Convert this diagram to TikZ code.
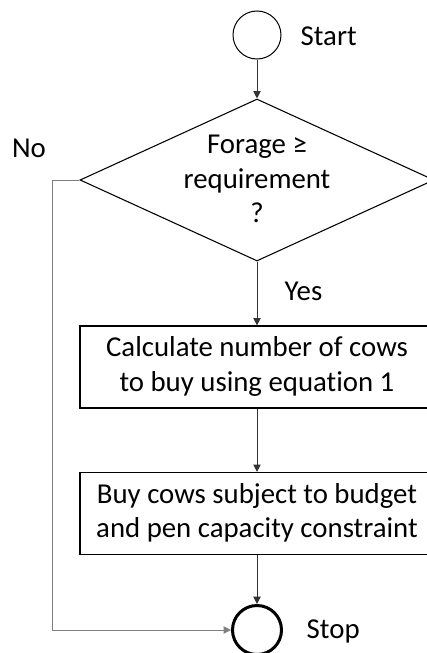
\documentclass[tikz,border=0pt]{standalone}
\usepackage{fontspec}
\setmainfont[Ligatures=NoCommon]{Carlito}
\usetikzlibrary{shapes.geometric,arrows.meta}

\begin{document}
\begin{tikzpicture}[x=0.75pt,y=-0.75pt,
  every node/.style={font=\fontsize{21.6}{26}\selectfont},
  terminal/.style={circle,draw,minimum size=36pt,inner sep=0pt},
  decision/.style={diamond,draw,line width=0.8pt,minimum width=265.5pt,minimum height=121.5pt,inner sep=0pt},
  process/.style={rectangle,draw,line width=0.9pt,minimum width=265.5pt,minimum height=61.5pt,align=center,inner sep=0pt},
  flow/.style={line width=0.75pt,black!80,-{Triangle[width=5.5pt,length=5.5pt]}}]
\useasboundingbox (0,0) rectangle (427,653);
\node[terminal,line width=0.75pt] (start) at (257,35) {};
\node[anchor=west] (startlabel) at (296,36) {Start};
\node[decision] (forage) at (257,180) {\smash{\raisebox{-6pt}{\begin{tabular}{@{}c@{}}Forage ≥\\requirement\\?\end{tabular}}}};
\node (nolabel) at (29,148) {No};
\node[anchor=west] (yeslabel) at (280,291) {Yes};
\node[process] (calc) at (257,367) {\raisebox{-2pt}{\begin{tabular}{@{}c@{}}Calculate number of cows\\to buy using equation 1\end{tabular}}};
\node[process] (buy) at (257,513.5) {\raisebox{-2pt}{\begin{tabular}{@{}c@{}}Buy cows subject to budget\\and pen capacity constraint\end{tabular}}};
\node[terminal,line width=2.25pt,minimum size=36.75pt] (stop) at (257,630) {};
\node[anchor=west] (stoplabel) at (302,631) {Stop};
\coordinate (nobend) at (52,180);
\draw[flow] (start) -- (forage);
\draw[flow] (forage) -- (calc);
\draw[flow] (calc) -- (buy);
\draw[flow] (buy) -- (stop);
\draw[flow,black!50] (forage.west) -- (nobend) |- (stop.west);
\end{tikzpicture}
\end{document}
